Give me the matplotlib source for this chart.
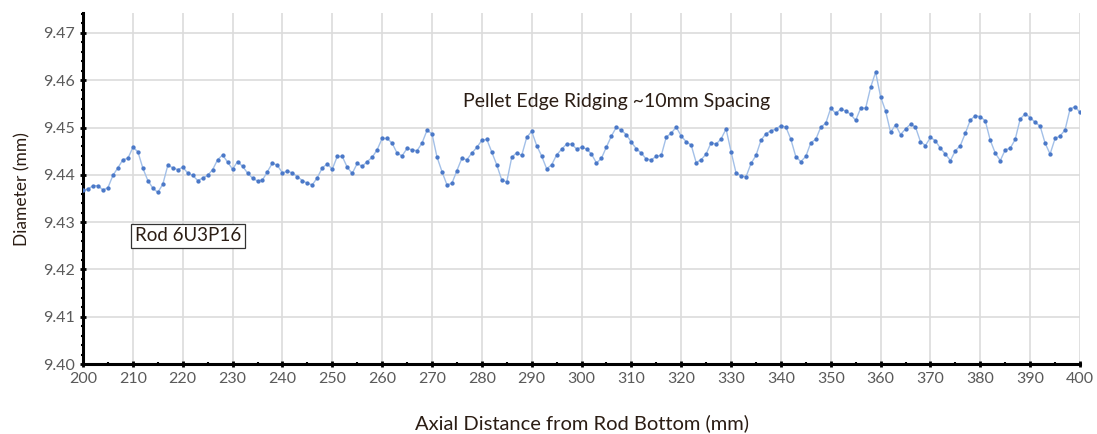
import numpy as np
import matplotlib
matplotlib.use("Agg")
import matplotlib.pyplot as plt
from matplotlib.ticker import MultipleLocator

plt.rcParams['font.family'] = ['Lato', 'DejaVu Sans']

# axial position (mm), 1 mm steps
axial_mm = np.arange(200, 401)

# diameter readings (mm)
diameter = [
    9.4367, 9.4370, 9.4377, 9.4377, 9.4368, 9.4373, 9.4399, 9.4415, 9.4432, 9.4435,
    9.4458, 9.4449, 9.4414, 9.4388, 9.4372, 9.4363, 9.4380, 9.4420, 9.4415, 9.4411,
    9.4416, 9.4404, 9.4399, 9.4388, 9.4393, 9.4399, 9.4411, 9.4432, 9.4442, 9.4427,
    9.4412, 9.4428, 9.4418, 9.4404, 9.4393, 9.4387, 9.4389, 9.4407, 9.4425, 9.4420,
    9.4404, 9.4408, 9.4404, 9.4396, 9.4388, 9.4382, 9.4379, 9.4394, 9.4415, 9.4423,
    9.4412, 9.4439, 9.4439, 9.4416, 9.4403, 9.4424, 9.4418, 9.4428, 9.4437, 9.4453,
    9.4477, 9.4477, 9.4467, 9.4446, 9.4440, 9.4456, 9.4453, 9.4451, 9.4467, 9.4494,
    9.4487, 9.4438, 9.4407, 9.4379, 9.4382, 9.4409, 9.4435, 9.4432, 9.4446, 9.4458,
    9.4473, 9.4475, 9.4448, 9.4421, 9.4389, 9.4385, 9.4437, 9.4447, 9.4441, 9.4479,
    9.4492, 9.4462, 9.4440, 9.4413, 9.4421, 9.4442, 9.4454, 9.4465, 9.4465, 9.4455,
    9.4458, 9.4455, 9.4444, 9.4425, 9.4435, 9.4459, 9.4482, 9.4501, 9.4494, 9.4485,
    9.4469, 9.4455, 9.4446, 9.4433, 9.4432, 9.4439, 9.4441, 9.4480, 9.4488, 9.4501,
    9.4482, 9.4470, 9.4463, 9.4426, 9.4432, 9.4444, 9.4468, 9.4465, 9.4476, 9.4497,
    9.4449, 9.4404, 9.4398, 9.4396, 9.4424, 9.4441, 9.4473, 9.4487, 9.4493, 9.4497,
    9.4504, 9.4501, 9.4475, 9.4438, 9.4428, 9.4439, 9.4468, 9.4475, 9.4501, 9.4509,
    9.4541, 9.4530, 9.4539, 9.4535, 9.4528, 9.4515, 9.4541, 9.4541, 9.4585, 9.4617,
    9.4565, 9.4535, 9.4490, 9.4506, 9.4485, 9.4497, 9.4507, 9.4501, 9.4470, 9.4462,
    9.4479, 9.4472, 9.4456, 9.4444, 9.4430, 9.4451, 9.4462, 9.4488, 9.4516, 9.4525,
    9.4523, 9.4514, 9.4473, 9.4446, 9.4430, 9.4453, 9.4456, 9.4475, 9.4518, 9.4529,
    9.4521, 9.4511, 9.4503, 9.4467, 9.4444, 9.4477, 9.4482, 9.4495, 9.4539, 9.4544,
    9.4532,
]

fig = plt.figure(figsize=(10.97, 4.34), dpi=100)
ax = fig.add_axes([0.0757, 0.161, 0.9088, 0.809])

ax.plot(axial_mm, diameter, color='#a3c0e8', lw=1.0,
        marker='o', ms=2.1, mfc='#4a78c8', mec='#4a78c8', zorder=3)

ax.set_xlim(200, 400)
ax.set_ylim(9.40, 9.4742)
ax.xaxis.set_major_locator(MultipleLocator(10))
ax.xaxis.set_minor_locator(MultipleLocator(5))
ax.yaxis.set_major_locator(MultipleLocator(0.01))
ax.yaxis.set_minor_locator(MultipleLocator(0.002))
ax.yaxis.set_major_formatter(matplotlib.ticker.FormatStrFormatter('%.2f'))

ax.grid(True, which='major', color='#dcdcdc', lw=1.2)
ax.set_axisbelow(True)
for s in ['top', 'right']:
    ax.spines[s].set_visible(False)
ax.spines['left'].set_linewidth(2.2)
ax.spines['bottom'].set_linewidth(2.2)
ax.tick_params(which='major', direction='inout', length=5, width=2,
               labelsize=11.5, labelcolor='#5a5a5a', color='black')
ax.tick_params(which='minor', direction='inout', length=3, width=1.5, color='black')

ax.set_xlabel('Axial Distance from Rod Bottom (mm)', fontsize=14.5,
              color='#2b1d14', labelpad=20)
ax.set_ylabel('Diameter (mm)', fontsize=12.5, color='#2b1d14', labelpad=9)

ax.text(276.2, 9.4556, 'Pellet Edge Ridging ~10mm Spacing', fontsize=14,
        color='#2b1d14', va='center', ha='left')
ax.text(210.4, 9.4271, 'Rod 6U3P16', fontsize=13.5, color='#2b1d14',
        va='center', ha='left',
        bbox=dict(boxstyle='square,pad=0.2', fc='white', ec='#333333', lw=0.9))

fig.savefig('out.png', dpi=100)
